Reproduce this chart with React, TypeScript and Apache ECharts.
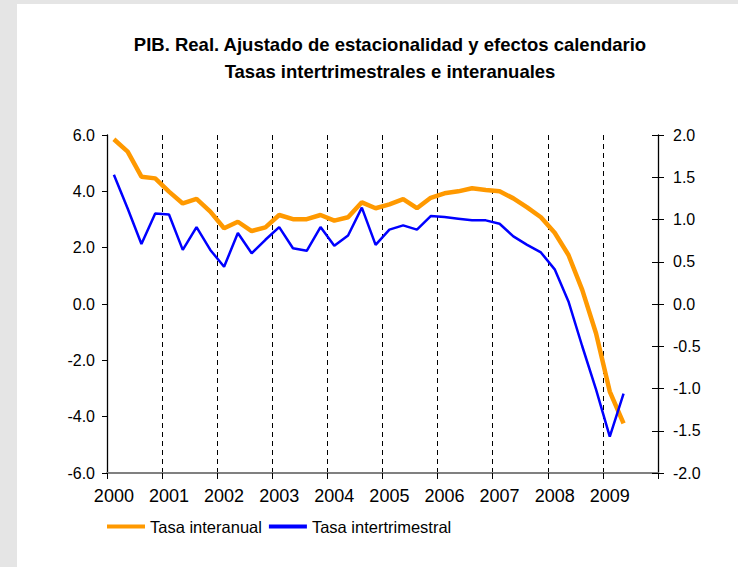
import React, { useEffect, useRef } from "react";
import * as echarts from "echarts";

const years = ["2000", "2001", "2002", "2003", "2004", "2005", "2006", "2007", "2008", "2009"];
const quarters = ["T1", "T2", "T3", "T4"];

// Tasa interanual (left axis)
const interanual = [
  5.85, 5.41, 4.52, 4.46, 3.99, 3.57, 3.73, 3.28,
  2.69, 2.92, 2.59, 2.72, 3.16, 3.01, 3.01, 3.16,
  2.96, 3.08, 3.61, 3.40, 3.54, 3.72, 3.40, 3.77,
  3.93, 4.00, 4.11, 4.05, 4.00, 3.75, 3.43, 3.08,
  2.53, 1.74, 0.50, -1.04, -3.11, -4.24,
];

// Tasa intertrimestral (right axis)
const intertrimestral = [
  1.53, 1.13, 0.71, 1.07, 1.06, 0.64, 0.91, 0.64,
  0.44, 0.84, 0.60, 0.76, 0.91, 0.66, 0.63, 0.91,
  0.69, 0.81, 1.14, 0.70, 0.88, 0.93, 0.88, 1.04,
  1.03, 1.01, 0.99, 0.99, 0.95, 0.80, 0.70, 0.61,
  0.41, 0.03, -0.50, -1.01, -1.57, -1.06,
];

const leftTicks = { min: -6, max: 6, interval: 2 };
const rightTicks = { min: -2, max: 2, interval: 0.5 };

const categories: string[] = [];
years.forEach((y) => quarters.forEach((q) => categories.push(y + q)));

const FONT = "'Liberation Sans', Arial, sans-serif";

export default function App() {
  const ref = useRef<HTMLDivElement>(null);
  useEffect(() => {
    if (!ref.current) return;
    const chart = echarts.init(ref.current, null, { renderer: "svg" });
    chart.setOption({
      animation: false,
      backgroundColor: "#e5e5e5",
      graphic: [
        {
          type: "rect",
          z: -100,
          silent: true,
          shape: { x: 17, y: 4, width: 721, height: 563 },
          style: { fill: "#ffffff" },
        },
      ],
      title: {
        text: "PIB. Real. Ajustado de estacionalidad y efectos calendario\nTasas intertrimestrales e interanuales",
        left: 385,
        top: 26,
        textAlign: "center",
        textStyle: {
          fontFamily: FONT,
          fontSize: 18.5,
          fontWeight: "bold",
          color: "#000",
          lineHeight: 27,
        },
      },
      legend: {
        left: 107,
        top: 518,
        padding: 0,
        itemWidth: 38,
        itemHeight: 4,
        itemGap: 7,
        icon: "rect",
        textStyle: { fontFamily: FONT, fontSize: 16.5, color: "#000" },
        data: [
          { name: "Tasa interanual", itemStyle: { color: "#FF9900" } },
          { name: "Tasa intertrimestral", itemStyle: { color: "#0000FF" } },
        ],
      },
      grid: { left: 107, right: 80, top: 135, bottom: 94, containLabel: false },
      xAxis: {
        type: "category",
        data: categories,
        boundaryGap: true,
        axisLine: { show: true, onZero: false, lineStyle: { color: "#808080", width: 2 } },
        axisTick: { show: true, interval: 3, length: 6, lineStyle: { color: "#000" } },
        axisLabel: {
          interval: 3,
          margin: 14,
          fontFamily: FONT,
          fontSize: 18,
          color: "#000",
          formatter: (v: string) => v.slice(0, 4),
        },
        splitLine: {
          show: true,
          interval: 3,
          lineStyle: { color: "#000", type: [5, 4], width: 1 },
        },
      },
      yAxis: [
        {
          type: "value",
          position: "left",
          ...leftTicks,
          axisLine: { show: true, lineStyle: { color: "#000", width: 1.3 } },
          axisTick: { show: true, length: 5, lineStyle: { color: "#000" } },
          axisLabel: {
            margin: 12,
            fontFamily: FONT,
            fontSize: 16,
            color: "#000",
            formatter: (v: number) => v.toFixed(1),
          },
          splitLine: { show: false },
        },
        {
          type: "value",
          position: "right",
          ...rightTicks,
          axisLine: { show: true, lineStyle: { color: "#000", width: 1.3 } },
          axisTick: { show: true, length: 6, lineStyle: { color: "#000" } },
          axisLabel: {
            margin: 15,
            fontFamily: FONT,
            fontSize: 16,
            color: "#000",
            formatter: (v: number) => v.toFixed(1),
          },
          splitLine: { show: false },
        },
        {
          type: "value",
          position: "right",
          ...rightTicks,
          axisLine: { show: false },
          axisTick: { show: true, inside: true, length: 6, lineStyle: { color: "#000" } },
          axisLabel: { show: false },
          splitLine: { show: false },
        },
      ],
      series: [
        {
          name: "Tasa interanual",
          type: "line",
          yAxisIndex: 0,
          data: interanual,
          symbol: "none",
          lineStyle: { color: "#FF9900", width: 4.5 },
          itemStyle: { color: "#FF9900" },
          z: 2,
        },
        {
          name: "Tasa intertrimestral",
          type: "line",
          yAxisIndex: 1,
          data: intertrimestral,
          symbol: "none",
          lineStyle: { color: "#0000FF", width: 2.5 },
          itemStyle: { color: "#0000FF" },
          z: 3,
        },
      ],
    });
    return () => chart.dispose();
  }, []);

  return (
    <div style={{ position: "fixed", left: 0, top: 0, width: 738, height: 567 }}>
      <div ref={ref} style={{ width: 738, height: 567 }} />
    </div>
  );
}
